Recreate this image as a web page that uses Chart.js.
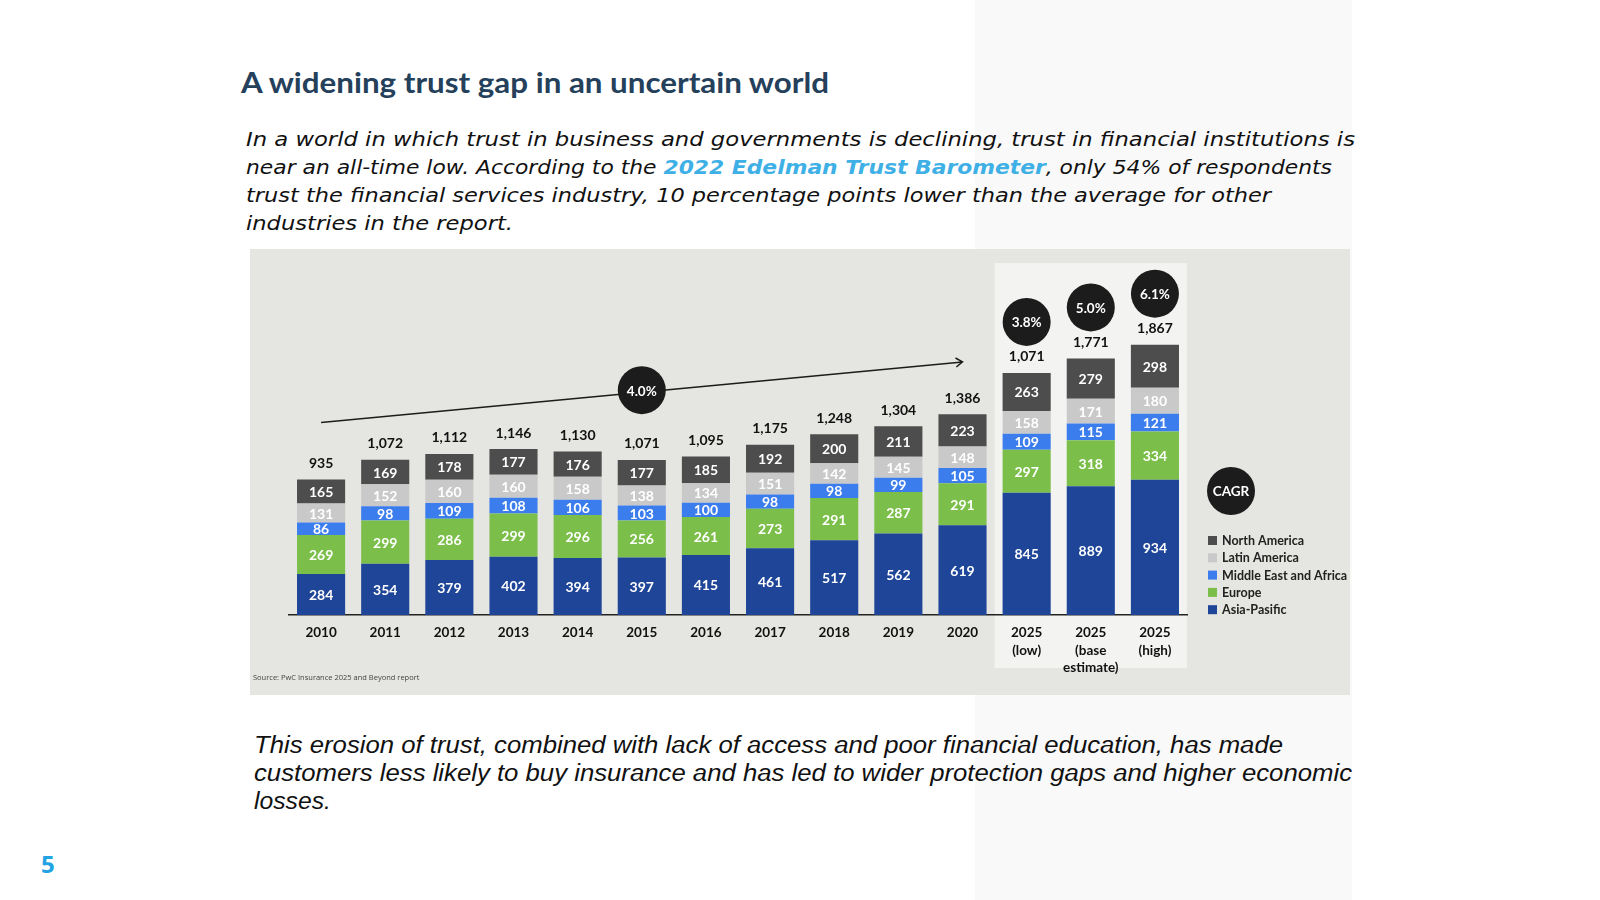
<!DOCTYPE html>
<html>
<head>
<meta charset="utf-8">
<script src="https://cdn.jsdelivr.net/npm/chart.js@4"></script>
<style>
  body { margin: 0; width: 1600px; height: 900px; background: #fff; position: relative; overflow: hidden; }
  .panel { position: absolute; left: 975px; top: 0; width: 377px; height: 900px; background: #f9f9f9; }
  .line { position: absolute; white-space: nowrap; display: inline-block; transform-origin: 0 50%; }
  .title { font-family: 'Lato', sans-serif; font-weight: 700; font-size: 28px; line-height: 36px; color: #24405a; }
  .para { font-family: 'DejaVu Sans', sans-serif; font-style: italic; font-size: 19px; line-height: 28px; color: #111; }
  .para a { color: #3fb0e6; font-weight: 600; text-decoration: none; }
  .low { font-family: 'Liberation Sans', sans-serif; font-style: italic; font-size: 23px; line-height: 28px; color: #111; }
  .pagenum { position: absolute; left: 41px; top: 847px; font-family: 'Open Sans', sans-serif; font-weight: 700; font-size: 24px; color: #22a3e4; }
  #wrap { position: absolute; left: 250px; top: 249px; width: 1100px; height: 446px; }
</style>
</head>
<body>
<div class="panel"></div>

<div class="line title" style="left:241px; top:64px" data-w="588">A widening trust gap in an uncertain world</div>

<div class="line para" style="left:246px; top:125px" data-w="1109">In a world in which trust in business and governments is declining, trust in financial institutions is</div>
<div class="line para" style="left:246px; top:153px" data-w="1086">near an all-time low. According to the <a>2022 Edelman Trust Barometer</a>, only 54% of respondents</div>
<div class="line para" style="left:246px; top:181px" data-w="1025">trust the financial services industry, 10 percentage points lower than the average for other</div>
<div class="line para" style="left:246px; top:209px" data-w="267">industries in the report.</div>

<div id="wrap"><canvas id="trustChart" width="1100" height="446"></canvas></div>

<div class="line low" style="left:254px; top:731px" data-w="1029">This erosion of trust, combined with lack of access and poor financial education, has made</div>
<div class="line low" style="left:254px; top:759px" data-w="1098">customers less likely to buy insurance and has led to wider protection gaps and higher economic</div>
<div class="line low" style="left:254px; top:787px" data-w="77">losses.</div>

<div class="pagenum">5</div>

<script>
// premium volumes by region, bottom of the stack first
const categories = ['2010', '2011', '2012', '2013', '2014', '2015', '2016', '2017', '2018', '2019', '2020',
  ['2025', '(low)'], ['2025', '(base', 'estimate)'], ['2025', '(high)']];
const asiaPacific = [284, 354, 379, 402, 394, 397, 415, 461, 517, 562, 619, 845, 889, 934];
const europe = [269, 299, 286, 299, 296, 256, 261, 273, 291, 287, 291, 297, 318, 334];
const middleEastAfrica = [86, 98, 109, 108, 106, 103, 100, 98, 98, 99, 105, 109, 115, 121];
const latinAmerica = [131, 152, 160, 160, 158, 138, 134, 151, 142, 145, 148, 158, 171, 180];
const northAmerica = [165, 169, 178, 177, 176, 177, 185, 192, 200, 211, 223, 263, 279, 298];
// totals as printed above the bars
const totalLabels = ['935', '1,072', '1,112', '1,146', '1,130', '1,071', '1,095', '1,175', '1,248', '1,304', '1,386', '1,071', '1,771', '1,867'];
const projectionCagr = ['3.8%', '5.0%', '6.1%'];
const historicCagr = '4.0%';
const trendFrom = { index: 0, value: 1330 };
const trendTo = { index: 10, value: 1748 };

const FONT = 'Lato';

// squeeze slide text lines to the widths seen on the slide
document.querySelectorAll('.line').forEach(el => {
  const w = parseFloat(el.dataset.w);
  const natural = el.getBoundingClientRect().width;
  if (natural > 0) el.style.transform = 'scaleX(' + (w / natural) + ')';
});

const decorations = {
  id: 'decorations',
  beforeDraw(chart) {
    const ctx = chart.ctx;
    const x = chart.scales.x, y = chart.scales.y;
    const area = chart.chartArea;
    const half = (x.getPixelForValue(1) - x.getPixelForValue(0)) / 2;
    ctx.save();
    ctx.fillStyle = '#e5e5e1';
    ctx.fillRect(0, 0, chart.width, chart.height);
    // projection panel behind the 2025 bars
    const left = x.getPixelForValue(11) - half;
    const right = x.getPixelForValue(13) + half;
    const top = y.getPixelForValue(2430);
    ctx.fillStyle = '#f3f3f1';
    ctx.fillRect(left, top, right - left, area.bottom + 53 - top);
    ctx.restore();
  },
  afterDatasetsDraw(chart) {
    const ctx = chart.ctx;
    const x = chart.scales.x, y = chart.scales.y;
    const area = chart.chartArea;
    ctx.save();
    ctx.textAlign = 'center';
    ctx.textBaseline = 'middle';

    // segment values
    chart.data.datasets.forEach((ds, i) => {
      const meta = chart.getDatasetMeta(i);
      meta.data.forEach((bar, j) => {
        ctx.fillStyle = '#ffffff';
        ctx.font = 'bold 14px ' + FONT;
        ctx.fillText(String(ds.data[j]), bar.x, (bar.y + bar.base) / 2 + 1);
      });
    });

    // totals + CAGR bubbles
    const topMeta = chart.getDatasetMeta(chart.data.datasets.length - 1);
    const bubble = (cx, cy, txt) => {
      ctx.fillStyle = '#1c1c1c';
      ctx.beginPath();
      ctx.arc(cx, cy, 24, 0, Math.PI * 2);
      ctx.fill();
      ctx.fillStyle = '#ffffff';
      ctx.font = 'bold 13.5px ' + FONT;
      ctx.fillText(txt, cx, cy + 1);
    };
    topMeta.data.forEach((bar, j) => {
      ctx.fillStyle = '#111';
      ctx.font = 'bold 14px ' + FONT;
      ctx.fillText(totalLabels[j], bar.x, bar.y - 16);
      if (j >= 11) bubble(bar.x, bar.y - 51, projectionCagr[j - 11]);
    });

    // historic trend arrow
    const x0 = x.getPixelForValue(trendFrom.index), y0 = y.getPixelForValue(trendFrom.value);
    const x1 = x.getPixelForValue(trendTo.index), y1 = y.getPixelForValue(trendTo.value);
    ctx.strokeStyle = '#1c1c1c';
    ctx.lineWidth = 1.5;
    ctx.beginPath();
    ctx.moveTo(x0, y0);
    ctx.lineTo(x1, y1);
    const ang = Math.atan2(y1 - y0, x1 - x0);
    ctx.moveTo(x1 - 8 * Math.cos(ang - 0.6), y1 - 8 * Math.sin(ang - 0.6));
    ctx.lineTo(x1, y1);
    ctx.lineTo(x1 - 8 * Math.cos(ang + 0.6), y1 - 8 * Math.sin(ang + 0.6));
    ctx.stroke();
    const cx = x.getPixelForValue(5);
    bubble(cx, y0 + (y1 - y0) * (cx - x0) / (x1 - x0) - 2, historicCagr);

    // legend
    bubble(area.right + 44, 242, 'CAGR');
    ctx.textAlign = 'left';
    const ds = chart.data.datasets.slice().reverse();
    ds.forEach((d, k) => {
      const ly = 292 + k * 17.3;
      ctx.fillStyle = d.backgroundColor;
      ctx.fillRect(area.right + 21, ly - 5, 9, 9);
      ctx.fillStyle = '#222';
      ctx.font = 'bold 12.5px ' + FONT;
      ctx.fillText(d.label, area.right + 35, ly);
    });

    // source note
    ctx.fillStyle = '#444';
    ctx.font = '7.5px "Open Sans"';
    ctx.fillText('Source: PwC Insurance 2025 and Beyond report', 3, 429);
    ctx.restore();
  }
};

new Chart(document.getElementById('trustChart'), {
  type: 'bar',
  data: {
    labels: categories,
    datasets: [
      { label: 'Asia-Pasific', data: asiaPacific, backgroundColor: '#1e4597' },
      { label: 'Europe', data: europe, backgroundColor: '#7bbf4a' },
      { label: 'Middle East and Africa', data: middleEastAfrica, backgroundColor: '#3b7ded' },
      { label: 'Latin America', data: latinAmerica, backgroundColor: '#c9c9c9' },
      { label: 'North America', data: northAmerica, backgroundColor: '#4d4d4d' }
    ]
  },
  options: {
    responsive: false,
    animation: false,
    layout: { padding: { left: 39, right: 163, top: 4, bottom: 0 } },
    datasets: { bar: { categoryPercentage: 1, barPercentage: 0.75 } },
    plugins: {
      legend: { display: false },
      tooltip: { enabled: false }
    },
    scales: {
      x: {
        stacked: true,
        grid: { display: false },
        border: { display: true, color: '#222', width: 1.5 },
        ticks: {
          color: '#111',
          autoSkip: false,
          maxRotation: 0,
          padding: 1,
          font: { family: FONT, size: 13.5, weight: 'bold', lineHeight: 1.3 }
        },
        afterFit(scale) { scale.height = 80; }
      },
      y: { stacked: true, display: false, min: 0, max: 2500 }
    }
  },
  plugins: [decorations]
});
</script>
</body>
</html>
